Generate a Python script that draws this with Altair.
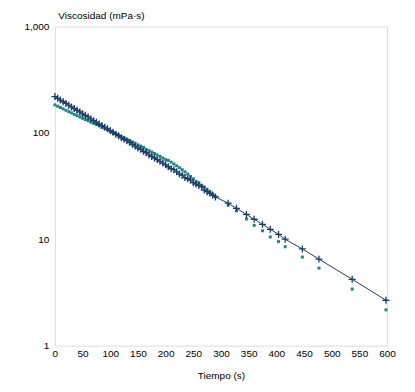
import altair as alt
import pandas as pd

# Time (s) for each reading
t_dense = [0, 5, 10, 15, 20, 25, 30, 35, 40, 45, 50, 55, 60, 65, 70, 75, 80, 85, 90, 95,
           100, 105, 110, 115, 120, 125, 130, 135, 140, 145, 150, 155, 160, 165, 170, 175,
           180, 185, 190, 195, 200, 205, 210, 215, 220, 225, 230, 235, 240, 245, 250, 255,
           260, 265, 270, 275, 280, 285, 290]
t_sparse = [313, 328, 346, 360, 375, 389, 404, 416, 447, 477, 537, 598]

# Series A (navy crosses + line), viscosity mPa·s
a_dense = [219, 211, 203, 196, 189, 182, 175, 169, 163, 157, 151, 146, 141, 135, 130, 126,
           121, 117, 113, 109, 105, 101, 97, 94, 90, 87, 84, 81, 78, 75, 72, 70, 67, 65, 62,
           60, 58, 56, 54, 52, 50, 48, 46, 45, 43, 41, 40, 38, 37, 36, 34, 33, 32, 31, 29,
           28, 27, 26, 25]
a_sparse = [21.8, 19.5, 17.1, 15.4, 13.8, 12.4, 11.1, 10.0, 8.1, 6.5, 4.2, 2.67]

# Series B (teal squares)
b_dense = [183, 178, 173, 168, 163, 158, 154, 149, 145, 141, 137, 133, 130, 126, 123, 120,
           117, 113, 110, 107, 104, 101, 98, 95, 92, 90, 87, 85, 82, 80, 77, 75, 73, 70, 68,
           66, 64, 62, 60, 58, 56, 55, 53, 51, 49, 47, 45, 43, 41, 39, 37, 35, 34, 32, 31,
           29.5, 28, 26.5, 25]
b_sparse = [21, 18.5, 15.5, 13.5, 12, 10.5, 9.5, 8.5, 6.8, 5.35, 3.4, 2.17]

x_ticks = [0, 50, 100, 150, 200, 250, 300, 350, 400, 450, 500, 550, 600]
y_ticks = [1, 10, 100, 1000]

NAVY = "#1c3d6a"
TEAL = "#22877d"
FONT = "Liberation Sans"

df_a = pd.DataFrame({"t": t_dense + t_sparse, "v": a_dense + a_sparse})
df_b = pd.DataFrame({"t": t_dense + t_sparse, "v": b_dense + b_sparse})

xenc = alt.X("t:Q", scale=alt.Scale(domain=[0, 600], nice=False),
             axis=alt.Axis(values=x_ticks, title="Tiempo (s)", ticks=False, domain=False,
                           grid=False, labelPadding=3, titlePadding=12, labelFlush=False,
                           titleFontWeight="normal", titleFont=FONT, titleFontSize=10))
yenc = alt.Y("v:Q", scale=alt.Scale(type="log", domain=[1, 1000], nice=False),
             axis=alt.Axis(values=y_ticks, format=",", title="Viscosidad (mPa·s)",
                           ticks=False, domain=False, grid=False, labelPadding=6,
                           titleAngle=0, titleX=3, titleY=-11, titleAlign="left",
                           titleBaseline="middle", titleFontWeight="normal",
                           titleFont=FONT, titleFontSize=10))

line_a = alt.Chart(df_a).mark_line(color=NAVY, strokeWidth=1).encode(x=xenc, y=yenc)
pts_a = alt.Chart(df_a).mark_point(
    shape="M-1,0L1,0M0,-1L0,1", filled=False, color=NAVY, size=49, strokeWidth=1.3, opacity=1
).encode(x=xenc, y=yenc)
pts_b = alt.Chart(df_b).mark_point(
    shape="square", filled=True, color=TEAL, size=9, opacity=1
).encode(x=xenc, y=yenc)

chart = alt.layer(pts_b, line_a, pts_a).properties(
    width=333, height=320,
    autosize=alt.AutoSizeParams(type="none"),
    padding={"left": 47, "top": 18, "right": 20, "bottom": 38},
).configure_view(stroke="#666666", strokeWidth=1).configure_axis(
    labelFont=FONT, titleFont=FONT, labelFontSize=10, titleFontSize=10,
    labelColor="#000000", titleColor="#000000", titleFontWeight="normal"
).configure(background="white")

chart.save("out.html", embed_options={"renderer": "svg", "actions": False})
